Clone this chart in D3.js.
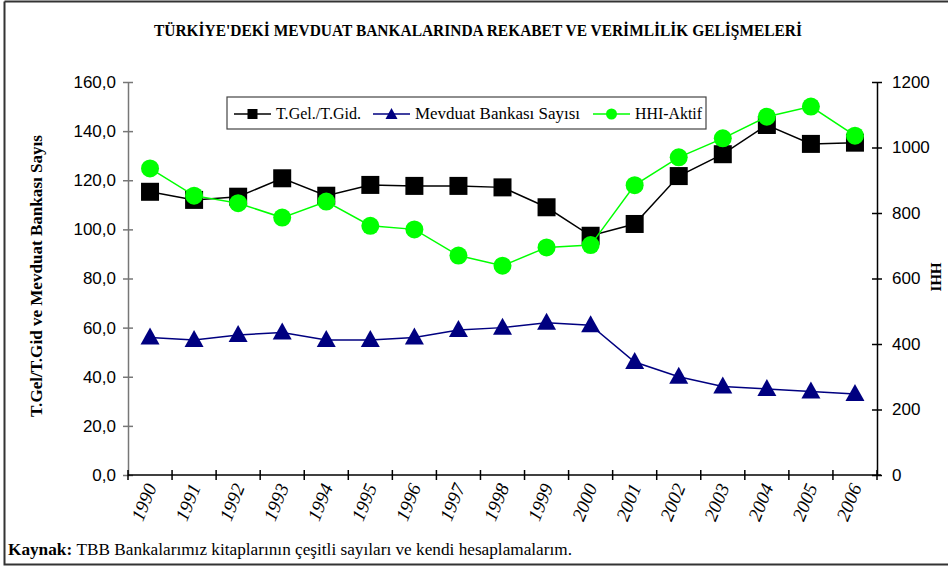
<!DOCTYPE html>
<html>
<head>
<meta charset="utf-8">
<script src="https://cdn.jsdelivr.net/npm/d3@7"></script>
<style>
  body { margin: 0; background: #fff; }
  svg { display: block; }
</style>
</head>
<body>
<div id="chart"></div>
<script>
// data
const years = ["1990","1991","1992","1993","1994","1995","1996","1997","1998",
               "1999","2000","2001","2002","2003","2004","2005","2006"];
const gelGid = [115.3, 112.0, 113.3, 120.8, 113.7, 118.1, 117.7, 117.7, 117.1,
                109.0, 97.4, 102.2, 121.7, 130.6, 142.5, 134.8, 135.3];
const bankaSayisi = [56, 55, 57, 58, 55, 55, 56, 59, 60, 62, 61, 46, 40, 36, 35, 34, 33];
const hhiAktif = [936, 853, 830, 786, 835, 761, 750, 670, 639,
                  695, 702, 885, 970, 1028, 1094, 1125, 1036];
const leftTicks = [0, 20, 40, 60, 80, 100, 120, 140, 160];
const rightTicks = [0, 200, 400, 600, 800, 1000, 1200];

const width = 948, height = 566;
const plotLeft = 128, plotRight = 877, plotTop = 82, plotBottom = 475;
const serif = "'Liberation Serif', 'Times New Roman', serif";
const sans = "'Liberation Sans', Arial, sans-serif";

const svg = d3.select("#chart").append("svg")
    .attr("width", width)
    .attr("height", height);

// outer frame
svg.append("path")
    .attr("d", "M4.5,1.5 H960 M4.5,1.5 V564.5 H960")
    .attr("fill", "none")
    .attr("stroke", "#333")
    .attr("stroke-width", 2);

const x = d3.scaleBand().domain(years).range([plotLeft, plotRight]).padding(0);
const yL = d3.scaleLinear().domain([0, 160]).range([plotBottom, plotTop]);
const yR = d3.scaleLinear().domain([0, 1200]).range([plotBottom, plotTop]);
const cx = function(d, i) { return x(years[i]) + x.bandwidth() / 2; };

// title
svg.append("text")
    .attr("x", 478).attr("y", 36)
    .attr("text-anchor", "middle")
    .attr("textLength", 648).attr("lengthAdjust", "spacingAndGlyphs")
    .style("font-family", serif)
    .style("font-weight", "bold")
    .style("font-size", "16px")
    .text("TÜRKİYE'DEKİ MEVDUAT BANKALARINDA REKABET VE VERİMLİLİK GELİŞMELERİ");

// left axis
const axL = svg.append("g")
    .attr("transform", "translate(" + plotLeft + ",0)")
    .call(d3.axisLeft(yL).tickValues(leftTicks).tickSizeInner(5).tickSizeOuter(0).tickPadding(7)
        .tickFormat(function(d) { return d.toFixed(1).replace(".", ","); }));
axL.select(".domain").attr("stroke", "#777").attr("stroke-width", 1.5);
axL.selectAll(".tick line").attr("x1", 5).attr("stroke", "#777").attr("stroke-width", 1.5);
axL.selectAll(".tick text")
    .style("font-family", sans)
    .style("font-size", "17px").attr("fill", "#000");

// right axis
const axR = svg.append("g")
    .attr("transform", "translate(" + plotRight + ",0)")
    .call(d3.axisRight(yR).tickValues(rightTicks).tickSizeInner(5).tickSizeOuter(0).tickPadding(10)
        .tickFormat(d3.format("d")));
axR.select(".domain").attr("stroke", "#000").attr("stroke-width", 1.5);
axR.selectAll(".tick line").attr("x1", -5).attr("stroke", "#000").attr("stroke-width", 1.5);
axR.selectAll(".tick text")
    .style("font-family", sans)
    .style("font-size", "17px").attr("fill", "#000");

// x axis
svg.append("line")
    .attr("x1", plotLeft).attr("x2", plotRight + 4)
    .attr("y1", plotBottom).attr("y2", plotBottom)
    .attr("stroke", "#000").attr("stroke-width", 1.5);
svg.selectAll(".xtick")
    .data(years.concat(["end"]))
    .enter().append("line")
    .attr("class", "xtick")
    .attr("x1", function(d) { return d == "end" ? plotRight : x(d); })
    .attr("x2", function(d) { return d == "end" ? plotRight : x(d); })
    .attr("y1", plotBottom - 5).attr("y2", plotBottom + 5)
    .attr("stroke", "#000").attr("stroke-width", 1.5);
svg.selectAll(".xlabel")
    .data(years)
    .enter().append("text")
    .attr("class", "xlabel")
    .attr("text-anchor", "end")
    .attr("transform", function(d, i) { return "translate(" + (cx(d, i) + 7) + "," + (plotBottom + 12) + ") rotate(-68)"; })
    .style("font-family", serif)
    .style("font-style", "italic")
    .style("font-size", "19px")
    .text(function(d) { return d; });

// axis titles
svg.append("text")
    .attr("transform", "translate(42,276) rotate(-90)")
    .attr("text-anchor", "middle")
    .attr("textLength", 282).attr("lengthAdjust", "spacingAndGlyphs")
    .style("font-family", serif)
    .style("font-weight", "bold").style("font-size", "16px")
    .text("T.Gel/T.Gid ve Mevduat Bankası Sayıs");
svg.append("text")
    .attr("transform", "translate(931,277) rotate(90)")
    .attr("text-anchor", "middle")
    .style("font-family", serif)
    .style("font-weight", "bold").style("font-size", "15px")
    .text("HHI");

// series
const lineL = d3.line().x(cx).y(function(d) { return yL(d); });
const lineR = d3.line().x(cx).y(function(d) { return yR(d); });
const tri = "M0,-10 L9.5,7 L-9.5,7 Z";

svg.append("path").datum(gelGid)
    .attr("d", lineL).attr("fill", "none").attr("stroke", "#000").attr("stroke-width", 1.5);
svg.selectAll(".sq").data(gelGid).enter().append("rect")
    .attr("class", "sq")
    .attr("x", function(d, i) { return cx(d, i) - 9; })
    .attr("y", function(d) { return yL(d) - 9; })
    .attr("width", 18).attr("height", 18)
    .attr("fill", "#000");

svg.append("path").datum(bankaSayisi)
    .attr("d", lineL).attr("fill", "none").attr("stroke", "#000080").attr("stroke-width", 1.5);
svg.selectAll(".tri").data(bankaSayisi).enter().append("path")
    .attr("class", "tri")
    .attr("d", tri)
    .attr("transform", function(d, i) { return "translate(" + cx(d, i) + "," + yL(d) + ")"; })
    .attr("fill", "#000080");

svg.append("path").datum(hhiAktif)
    .attr("d", lineR).attr("fill", "none").attr("stroke", "#00ff00").attr("stroke-width", 1.5);
svg.selectAll(".dot").data(hhiAktif).enter().append("circle")
    .attr("class", "dot")
    .attr("cx", cx)
    .attr("cy", function(d) { return yR(d); })
    .attr("r", 9)
    .attr("fill", "#00ff00");

// legend
const leg = svg.append("g");
leg.append("rect")
    .attr("x", 227).attr("y", 97).attr("width", 479).attr("height", 32)
    .attr("fill", "#fff").attr("stroke", "#444").attr("stroke-width", 1.2);
const legendItems = [
    { name: "T.Gel./T.Gid.", color: "#000", mark: "sq", x0: 234, w: 85 },
    { name: "Mevduat Bankası Sayısı", color: "#000080", mark: "tri", x0: 373, w: 165 },
    { name: "HHI-Aktif", color: "#00ff00", mark: "dot", x0: 593, w: 67 }
];
legendItems.forEach(function(it) {
    const ly = 114;
    leg.append("line")
        .attr("x1", it.x0).attr("x2", it.x0 + 37)
        .attr("y1", ly).attr("y2", ly)
        .attr("stroke", it.color).attr("stroke-width", 1.5);
    const mx = it.x0 + 18.5;
    if (it.mark == "sq") {
        leg.append("rect").attr("x", mx - 5).attr("y", ly - 5).attr("width", 10).attr("height", 10).attr("fill", it.color);
    } else if (it.mark == "tri") {
        leg.append("path").attr("d", "M0,-6 L6,5 L-6,5 Z").attr("transform", "translate(" + mx + "," + ly + ")").attr("fill", it.color);
    } else {
        leg.append("circle").attr("cx", mx).attr("cy", ly).attr("r", 5.5).attr("fill", it.color);
    }
    leg.append("text")
        .attr("x", it.x0 + 42).attr("y", ly + 5)
        .attr("textLength", it.w).attr("lengthAdjust", "spacingAndGlyphs")
        .style("font-family", serif)
        .style("font-size", "17px")
        .text(it.name);
});

// source note
const src = svg.append("text")
    .attr("x", 8).attr("y", 555)
    .attr("textLength", 564).attr("lengthAdjust", "spacingAndGlyphs")
    .style("font-family", serif)
    .style("font-size", "16px");
src.append("tspan").style("font-weight", "bold").text("Kaynak: ");
src.append("tspan").text("TBB Bankalarımız kitaplarının çeşitli sayıları ve kendi hesaplamalarım.");
</script>
</body>
</html>
